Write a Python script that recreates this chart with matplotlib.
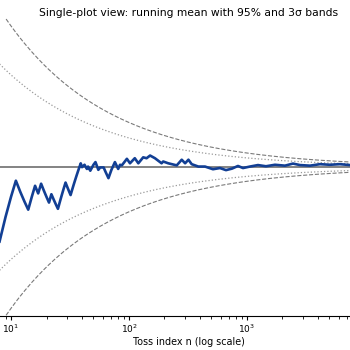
import numpy as np
import matplotlib
matplotlib.use("Agg")
import matplotlib.pyplot as plt

# first tosses: exact head counts
early_n = [8, 9, 10, 11, 12, 13, 14, 15, 16, 17, 18, 19, 20, 21, 22, 23, 24,
           25, 26, 27, 28, 29, 30, 31, 32, 33, 34, 35, 36, 37, 38, 39, 40]
early_heads = [2, 3, 4, 5, 5, 5, 5, 6, 7, 7, 8, 8, 8, 8, 9, 9, 9,
               9, 10, 11, 12, 13, 13, 13, 13, 14, 15, 16, 17, 18, 19, 20, 20]

# later running mean, read at points along the curve
late_n = [42, 44, 45, 47, 50, 52, 55, 57, 61, 63, 67, 71, 76, 81, 84, 87, 96,
          102, 112, 120, 132, 141, 151, 166, 189, 195, 215, 254, 280, 299, 319,
          340, 387, 441, 515, 590, 664, 746, 839, 925, 1060, 1239, 1449, 1726,
          2099, 2455, 2812, 3420, 4157, 5050, 6138, 7464, 9000]
late_mean = [0.508, 0.494, 0.502, 0.488, 0.508, 0.517, 0.491, 0.499, 0.499,
             0.486, 0.463, 0.491, 0.517, 0.494, 0.508, 0.506, 0.528, 0.513,
             0.530, 0.513, 0.533, 0.530, 0.539, 0.530, 0.513, 0.519, 0.513,
             0.506, 0.525, 0.513, 0.525, 0.510, 0.502, 0.502, 0.493, 0.497,
             0.490, 0.495, 0.504, 0.497, 0.502, 0.507, 0.503, 0.508, 0.505,
             0.512, 0.507, 0.505, 0.510, 0.508, 0.510, 0.507, 0.507]

p_true = 0.5
z95 = 1.96
z3 = 3.0
n_max = 10000
major_ticks = [10, 100, 1000]

n_all = np.array(early_n + late_n, dtype=float)
mean_all = np.concatenate([np.array(early_heads) / np.array(early_n), late_mean])

n_band = np.arange(1, n_max + 1)
sigma = np.sqrt(p_true * (1 - p_true) / n_band)

fig = plt.figure(figsize=(3.5, 3.5), dpi=100)
ax = fig.add_axes([0.0, 34 / 350, 377 / 350, 297.7 / 350])

ax.axhline(p_true, color="#6e6e6e", lw=1.2, zorder=1)
ax.plot(n_band, p_true + z95 * sigma, ls=":", color="#9a9a9a", lw=0.9)
ax.plot(n_band, p_true - z95 * sigma, ls=":", color="#9a9a9a", lw=0.9)
ax.plot(n_band, p_true + z3 * sigma, ls="--", color="#7a7a7a", lw=0.8)
ax.plot(n_band, p_true - z3 * sigma, ls="--", color="#7a7a7a", lw=0.8)
ax.plot(n_all, mean_all, color="#123f94", lw=1.9, zorder=3)

ax.set_xscale("log")
ax.set_xlim(8.07, 12650)
ax.set_ylim(0, 1)
ax.set_xticks(major_ticks)
ax.set_yticks([])
for s in ["left", "top", "right"]:
    ax.spines[s].set_visible(False)
ax.tick_params(axis="x", labelsize=6.5, length=3, pad=2)
ax.tick_params(axis="x", which="minor", length=1.8)

ax.set_xlabel("Toss index n (log scale)", fontsize=6.9, labelpad=1)
ax.set_title("Single-plot view: running mean with 95% and 3σ bands", fontsize=7.75, pad=2)

fig.savefig("out.png", dpi=100)
